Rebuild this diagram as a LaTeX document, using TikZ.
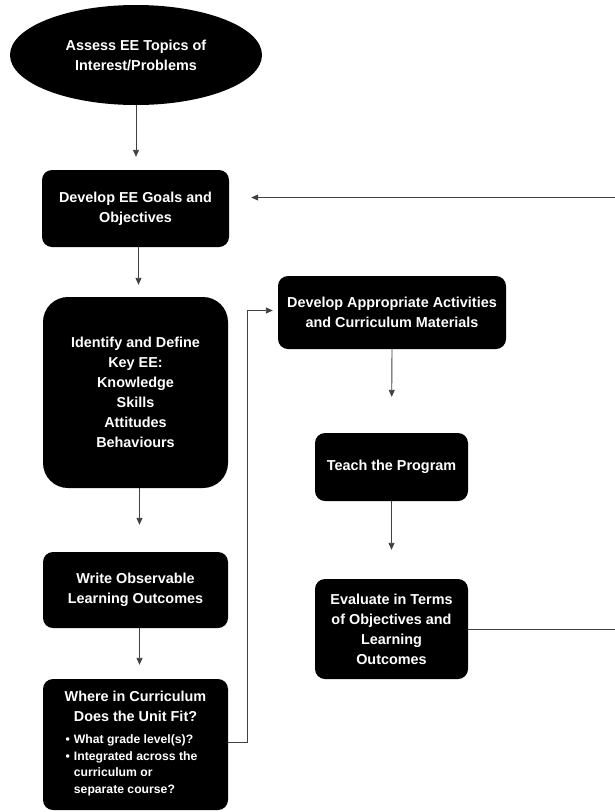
\documentclass[tikz,border=0pt]{standalone}
\usepackage{fontspec}
\setmainfont{Liberation Sans}
\usetikzlibrary{shapes.geometric, arrows.meta, positioning}

\begin{document}
\begin{tikzpicture}[x=1pt, y=-1pt,
    stage/.style={fill=black, text=white, rounded corners=10pt, inner sep=0pt,
      align=center, font=\fontsize{14.4}{20}\selectfont\bfseries},
    flow/.style={draw=black!75, line width=0.9pt, -{Triangle[length=7pt,width=6pt]}}]
    \useasboundingbox (0,0) rectangle (614,812);

    % Starting ellipse
    \node[stage, ellipse, minimum width=252, minimum height=100] (assess) at (136,55)
      {Assess EE Topics of\\Interest/Problems};

    % Left column
    \node[stage, minimum width=187, minimum height=77] (goals) at (135.5,208.5)
      {Develop EE Goals and\\Objectives};
    \node[stage, rounded corners=25pt, minimum width=185, minimum height=191] (identify) at (135.5,392.5)
      {Identify and Define\\Key EE:\\Knowledge\\Skills\\Attitudes\\Behaviours};
    \node[stage, minimum width=185, minimum height=76] (outcomes) at (135.5,590)
      {Write Observable\\Learning Outcomes};
    \node[stage, minimum width=185, minimum height=131] (where) at (135.5,744.5)
      {Where in Curriculum\\Does the Unit Fit?\\[2pt]
       {\fontsize{12.2}{16.5}\selectfont
        \begin{tabular}[t]{@{}l@{\hspace{4pt}}l@{}}
          \textbullet & What grade level(s)?\\
          \textbullet & Integrated across the\\
                      & curriculum or\\
                      & separate course?
        \end{tabular}\hspace*{8pt}}};

    % Right column
    \node[stage, minimum width=228, minimum height=73] (activities) at (392,312.5)
      {Develop Appropriate Activities\\and Curriculum Materials};
    \node[stage, minimum width=153, minimum height=68] (teach) at (391.5,467)
      {Teach the Program};
    \node[stage, minimum width=153, minimum height=100] (evaluate) at (391.5,629)
      {Evaluate in Terms\\of Objectives and\\Learning\\Outcomes};

    % Return path runs past the right edge
    \coordinate (loop) at (624,197.5);

    % Connectors
    \draw[flow, shorten >=13] (assess.south) -- (assess.south |- goals.north);
    \draw[flow, shorten >=12] ([xshift=3pt]goals.south) -- ([xshift=3pt]identify.north);
    \draw[flow, shorten >=27] ([xshift=4pt]identify.south) -- ([xshift=4pt]outcomes.north);
    \draw[flow, shorten >=14] ([xshift=4pt]outcomes.south) -- ([xshift=4pt]where.north);
    \draw[flow, shorten >=5] ([yshift=2pt]where.east) -- ++(19,0) |- ([yshift=2pt]activities.west);
    \draw[flow, shorten >=36] (activities.south) -- (teach.north);
    \draw[flow, shorten >=29] (teach.south) -- (evaluate.north);
    \draw[flow, shorten >=22] (evaluate.east) -| (loop) -- ([yshift=11pt]goals.east);
\end{tikzpicture}
\end{document}
